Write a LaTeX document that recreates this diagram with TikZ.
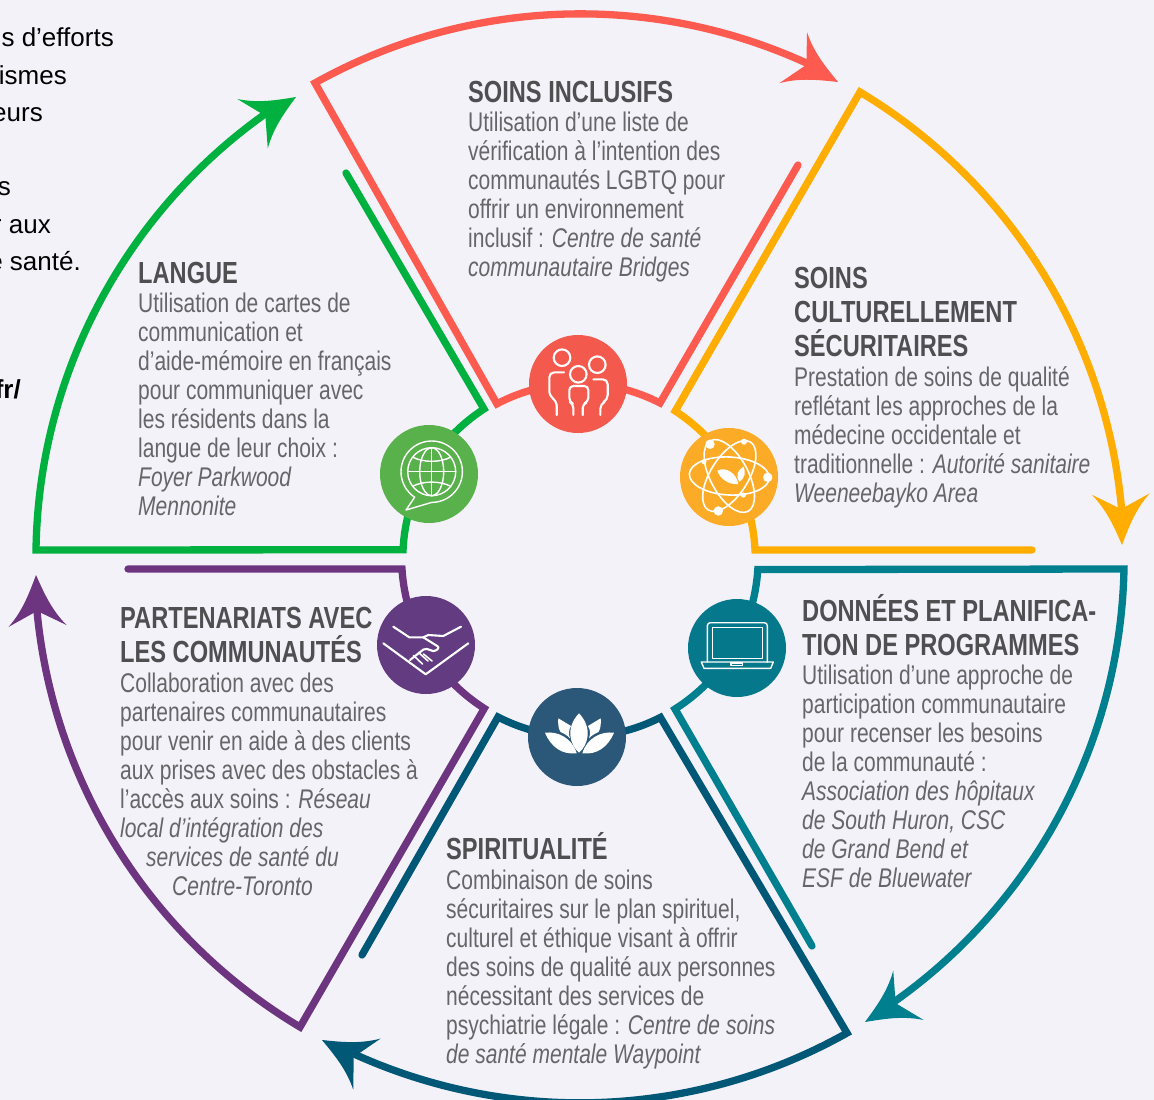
\documentclass[tikz,border=0pt]{standalone}
\usepackage{fontspec}
\setmainfont[FakeStretch=0.778]{Liberation Sans}
\newfontfamily\plainfont{Liberation Sans}
\newfontfamily\headfont[FakeStretch=0.775]{Liberation Sans Bold}
\definecolor{bgc}{HTML}{F4F2F9}
\definecolor{cred}{HTML}{FD5A50}
\definecolor{corange}{HTML}{FFAD00}
\definecolor{cteal}{HTML}{007F8F}
\definecolor{cblue}{HTML}{005776}
\definecolor{cpurple}{HTML}{6D3580}
\definecolor{cgreen}{HTML}{00B13F}
\definecolor{ired}{HTML}{F4594D}
\definecolor{iorange}{HTML}{FBAB26}
\definecolor{iteal}{HTML}{06788C}
\definecolor{iblue}{HTML}{2B5878}
\definecolor{ipurple}{HTML}{633B81}
\definecolor{igreen}{HTML}{59B14C}
\definecolor{thead}{HTML}{4F4F51}
\definecolor{tbody}{HTML}{666668}
\newcommand{\tipat}[3]{\fill[#3,shift={(#1)},rotate=#2] (0,0) .. controls (-17,-7) and (-35,-14) .. (-51,-29) .. controls (-44,-14) .. (-36,0) .. controls (-44,14) .. (-51,29) .. controls (-35,14) and (-17,7) .. cycle;}
\tikzset{
  ring/.style={line width=7.3pt,line cap=round,line join=miter,miter limit=10},
  iconnode/.style={circle,minimum size=98pt,inner sep=0pt},
  iconline/.style={white,line width=2.1pt,line cap=round,line join=round},
  thinline/.style={white,line width=1.4pt,line cap=round,line join=round},
  bodytext/.style={anchor=base west,inner sep=0pt,align=left,text=tbody,font=\fontsize{27}{29}\selectfont},
  headtext/.style={anchor=base west,inner sep=0pt,align=left,text=thead,font=\fontsize{30.5}{34}\headfont},
  cuttext/.style={anchor=base east,inner sep=0pt,text=black,font=\fontsize{26}{29}\plainfont}
}
\begin{document}
\begin{tikzpicture}[x=1pt,y=-1pt]
\useasboundingbox (0,0) rectangle (1154,1100);
\fill[bgc] (0,0) rectangle (1154,1100);
\begin{scope}
\clip (0,0) rectangle (1154,1100);
% text cut by the left edge
\node[cuttext] (c1) at (114,46) {s d’efforts};
\node[cuttext] (c2) at (67,84) {ismes};
\node[cuttext] (c3) at (43,121) {eurs};
\node[cuttext] (c4) at (11,195) {s};
\node[cuttext] (c5) at (51,233) {r aux};
\node[cuttext] (c6) at (81,270) {e santé.};
\node[cuttext,font=\fontsize{26}{29}\plainfont\bfseries] (c7) at (21,398) {fr/};

% corners
\coordinate (rFree) at (798,165);
\coordinate (rIn) at (660,403);
\coordinate (rOut) at (315,83);
\coordinate (rTip) at (838,82);
\coordinate (oFree) at (1032,550);
\coordinate (oIn) at (675,411);
\coordinate (oOut) at (860,92);
\coordinate (oTip) at (1122,545);
\coordinate (tFree) at (812,946);
\coordinate (tIn) at (755,569);
\coordinate (tOut) at (1124,569);
\coordinate (tTip) at (865,1022);
\coordinate (bFree) at (362,955);
\coordinate (bIn) at (661,717);
\coordinate (bOut) at (847,1033);
\coordinate (bTip) at (322,1040);
\coordinate (pFree) at (128,569);
\coordinate (pIn) at (484,709);
\coordinate (pOut) at (300,1027);
\coordinate (pTip) at (36,575);
\coordinate (gFree) at (346,173);
\coordinate (gIn) at (402,550);
\coordinate (gOut) at (36,550);
\coordinate (gTip) at (296,97);

% rings
\draw[ring,cred] (rFree) -- (rIn) arc[start angle=-62.7,end angle=-117.9,radius=176] -- (rOut) arc[start angle=-119.2,end angle=-65,radius=544];
\tipat{rTip}{-28.5}{cred}
\draw[ring,corange] (oFree) -- (755,550) arc[start angle=-2.6,end angle=-57.1,radius=175] -- (oOut) arc[start angle=-59,end angle=-5,radius=544];
\tipat{oTip}{-88.6}{corange}
\draw[ring,cteal] (tFree) -- (675,709) arc[start angle=57.8,end angle=3.6,radius=178] -- (tOut) arc[start angle=1.2,end angle=54.7,radius=544];
\tipat{tTip}{-148.4}{cteal}
\draw[ring,cblue] (bFree) -- (498,717) arc[start angle=117.3,end angle=63,radius=178] -- (bOut) arc[start angle=60.7,end angle=114.5,radius=546];
\tipat{bTip}{-208.2}{cblue}
\draw[ring,cpurple] (pFree) -- (402,569) arc[start angle=176.5,end angle=122.4,radius=178] -- (pOut) arc[start angle=120.8,end angle=174.5,radius=544];
\tipat{pTip}{-268.2}{cpurple}
\draw[ring,cgreen] (gFree) -- (484,409) arc[start angle=237.2,end angle=182.6,radius=177] -- (gOut) arc[start angle=180.8,end angle=234.7,radius=544];
\tipat{gTip}{31.6}{cgreen}

% icon discs
\node[iconnode,fill=ired] (iRed) at (578,384) {};
\node[iconnode,fill=iorange] (iOrange) at (729,477) {};
\node[iconnode,fill=iteal] (iTeal) at (737,648) {};
\node[iconnode,fill=iblue] (iBlue) at (577,737) {};
\node[iconnode,fill=ipurple] (iPurple) at (426,645) {};
\node[iconnode,fill=igreen] (iGreen) at (429,474) {};

% people
\draw[iconline] (562,357.7) circle[radius=8.3] (597.3,364.7) circle[radius=8.3] (578.3,374.3) circle[radius=8.3];
\draw[iconline,rounded corners=5pt] (564,372.3) -- (549.3,372.3) -- (549.3,396) -- (556.7,401) -- (556.7,415);
\draw[iconline,rounded corners=5pt] (593.3,379.3) -- (607.7,379.3) -- (607.7,400) -- (600.3,404) -- (600.3,415);
\draw[iconline,rounded corners=4pt] (573.3,415) -- (573.3,404) -- (569.3,401.7) -- (569.3,386) -- (588.3,386) -- (588.3,401.7) -- (582.7,404) -- (582.7,415);

% atom
\begin{scope}[shift={(729.3,476)}]
\draw[thinline,line width=1.6pt,rotate=-3] (0,0) ellipse[x radius=40,y radius=19];
\draw[thinline,line width=1.6pt,rotate=58] (0,0) ellipse[x radius=40,y radius=19];
\draw[thinline,line width=1.6pt,rotate=-62] (0,0) ellipse[x radius=40,y radius=19];
\end{scope}
\fill[white] (710,444.3) circle[radius=4.7] (767.7,477.3) circle[radius=4.7] (718.3,511) circle[radius=4.7] (744,441.7) circle[radius=3] (743.3,495) circle[radius=2.6] (704,461.7) circle[radius=2.5];
\fill[white] (717.3,470.7) .. controls (726,466) and (737,474) .. (738.3,484) .. controls (729,485) and (720,479) .. cycle;
\fill[white] (739.5,481.7) .. controls (735,475) and (738,470) .. (743.5,466.7) .. controls (746,472) and (745,478) .. cycle;

% globe with speech bubble
\begin{scope}[shift={(431.7,471.7)}]
\draw[thinline] (123.7:30.7) arc[start angle=123.7,end angle=450,radius=30.7] -- (-25.7,38.3) -- cycle;
\draw[thinline] (0,0) circle[radius=24];
\draw[thinline] (0,0) ellipse[x radius=12,y radius=24];
\draw[thinline] (0,-24) -- (0,24) (-24,0) -- (24,0);
\draw[thinline] (-19,-14.5) .. controls (-8,-9) and (8,-9) .. (19,-14.5);
\draw[thinline] (-19,14.5) .. controls (-8,9) and (8,9) .. (19,14.5);
\end{scope}

% laptop
\draw[thinline,rounded corners=3pt] (707.3,662) -- (707.3,622.7) -- (767.3,622.7) -- (767.3,662);
\draw[thinline] (712.3,627.7) rectangle (762.7,658.3);
\draw[thinline] (701.3,662) -- (773.3,662) -- (770.7,668.3) -- (704,668.3) -- cycle;
\draw[thinline] (731,663) rectangle (742.3,665.7);

% lotus
\fill[white] (579,713.3) .. controls (565,728) and (570,745) .. (579,752.7) .. controls (588,745) and (593,728) .. cycle;
\fill[white] (545,732.7) .. controls (558,731) and (572,738) .. (576.7,753.3) .. controls (562,755) and (551,747) .. cycle;
\fill[white] (614,732.7) .. controls (601,731) and (587,738) .. (582.3,753.3) .. controls (597,755) and (608,747) .. cycle;
\fill[white] (558.3,718.3) -- (571,726) .. controls (568.5,730) and (568.5,734) .. (570,738.3) .. controls (567,735) and (563,733) .. (560.5,732) .. controls (558,728) and (558,723) .. cycle;
\fill[white] (600.7,718.3) -- (588,726) .. controls (590.5,730) and (590.5,734) .. (589,738.3) .. controls (592,735) and (596,733) .. (598.5,732) .. controls (601,728) and (601,723) .. cycle;

% handshake
\draw[iconline] (393.3,626.7) -- (409.3,637.3) -- (423.3,637.3) -- (428.3,635) -- (443.3,636) -- (461,626.7);
\draw[iconline] (383.3,643.3) -- (425.7,674.3) -- (468.3,643.3);
\draw[iconline,rounded corners=2pt] (423.3,637.3) -- (439.3,647.3) -- (435,651.7) -- (425,648.3) -- (410,660);
\draw[iconline,line width=1.6pt] (413.5,655.5) -- (422.5,664) (418.5,652.5) -- (428,661) (423.5,654) -- (432,661);

% texts
\node[headtext] (hRed) at (468,102) {SOINS INCLUSIFS};
\node[bodytext] (tRed) at (468,276) {Utilisation d’une liste de\\vérification à l’intention des\\communautés LGBTQ pour\\offrir un environnement\\inclusif : \textit{Centre de santé}\\\textit{communautaire Bridges}};
\node[headtext] (hOrange) at (794,356) {SOINS\\CULTURELLEMENT\\SÉCURITAIRES};
\node[bodytext] (tOrange) at (794,502) {Prestation de soins de qualité\\reflétant les approches de la\\médecine occidentale et\\traditionnelle : \textit{Autorité sanitaire}\\\textit{Weeneebayko Area}};
\node[headtext] (hTeal) at (802,655) {DONNÉES ET PLANIFICA-\\TION DE PROGRAMMES};
\node[bodytext] (tTeal) at (802,887) {Utilisation d’une approche de\\participation communautaire\\pour recenser les besoins\\de la communauté :\\\textit{Association des hôpitaux}\\\textit{de South Huron, CSC}\\\textit{de Grand Bend et}\\\textit{ESF de Bluewater}};
\node[headtext] (hBlue) at (446,859) {SPIRITUALITÉ};
\node[bodytext] (tBlue) at (446,1063) {Combinaison de soins\\sécuritaires sur le plan spirituel,\\culturel et éthique visant à offrir\\des soins de qualité aux personnes\\nécessitant des services de\\psychiatrie légale : \textit{Centre de soins}\\\textit{de santé mentale Waypoint}};
\node[headtext] (hPurple) at (120,662) {PARTENARIATS AVEC\\LES COMMUNAUTÉS};
\node[bodytext] (tPurple) at (120,895) {Collaboration avec des\\partenaires communautaires\\pour venir en aide à des clients\\aux prises avec des obstacles à\\l’accès aux soins : \textit{Réseau}\\\textit{local d’intégration des}\\\hspace*{26pt}\textit{services de santé du}\\\hspace*{52pt}\textit{Centre-Toronto}};
\node[headtext] (hGreen) at (138,283) {LANGUE};
\node[bodytext] (tGreen) at (138,515) {Utilisation de cartes de\\communication et\\d’aide-mémoire en français\\pour communiquer avec\\les résidents dans la\\langue de leur choix :\\\textit{Foyer Parkwood}\\\textit{Mennonite}};
\end{scope}
\end{tikzpicture}
\end{document}
